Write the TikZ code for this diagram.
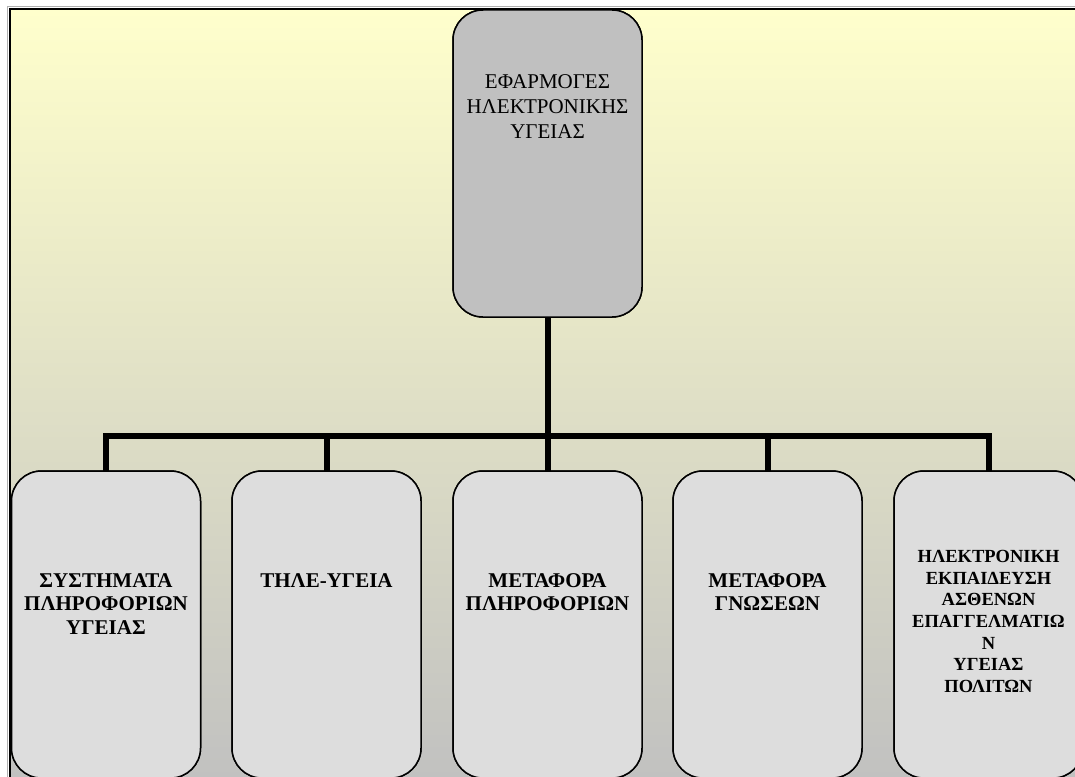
\documentclass[tikz,border=0pt]{standalone}
\usepackage{fontspec}
\setmainfont{Liberation Serif}
\definecolor{paleyellow}{HTML}{FFFFCC}
\definecolor{silvergrey}{HTML}{C0C0C0}
\definecolor{lightbox}{HTML}{DDDDDD}
\definecolor{framegrey}{HTML}{B0B0B0}
\begin{document}
\begin{tikzpicture}[x=1pt,y=-1pt,
  box/.style={draw=black, line width=1.5pt, rounded corners=30pt,
    minimum width=189pt, minimum height=307pt, inner sep=0pt, outer sep=0pt},
  topbox/.style={box, fill=silvergrey},
  leafbox/.style={box, fill=lightbox},
  toplabel/.style={anchor=north, align=center, inner sep=0pt,
    font=\fontsize{21}{25}\selectfont},
  leaflabel/.style={anchor=north, align=center, inner sep=0pt,
    font=\bfseries\fontsize{21}{23.5}\selectfont},
  smallleaflabel/.style={leaflabel, font=\bfseries\fontsize{18.5}{21.7}\selectfont},
  link/.style={line width=6pt, line join=miter}]

\useasboundingbox (0,0) rectangle (1075,776);

\begin{scope}
  \clip (0,0) rectangle (1075,776);
  % page background with its frame
  \shade[top color=paleyellow, bottom color=silvergrey] (10,9) rectangle (1090,790);
  \draw[framegrey, line width=1pt] (7.8,790) -- (7.8,6.8) -- (1090,6.8);
  \draw[black, line width=2pt] (10,790) -- (10,9) -- (1090,9);

  % hierarchy boxes
  \coordinate (bus) at (547.5,436);
  \node[topbox] (root) at (547.5,163.5) {};
  \node[leafbox] (l1) at (106,624.5) {};
  \node[leafbox] (l2) at (326.5,624.5) {};
  \node[leafbox] (l3) at (547.5,624.5) {};
  \node[leafbox] (l4) at (767.5,624.5) {};
  \node[leafbox] (l5) at (988.5,624.5) {};

  % connectors
  \draw[link] (root.south) -- (root.south |- bus);
  \draw[link] (l1.north) -- (l1.north |- bus) -- (l5.north |- bus) -- (l5.north);
  \foreach \n in {l2,l3,l4} {
    \draw[link] (\n.north |- bus) -- (\n.north);
  }

  % redraw box outlines over the connector ends
  \node[topbox] at (root) {};
  \foreach \n in {l1,l2,l3,l4,l5} {
    \node[leafbox] at (\n) {};
  }

  % labels
  \node[toplabel] (roottext) at (547.5,74) {ΕΦΑΡΜΟΓΕΣ\\ΗΛΕΚΤΡΟΝΙΚΗΣ\\ΥΓΕΙΑΣ};
  \node[leaflabel] (t1) at (106,573) {ΣΥΣΤΗΜΑΤΑ\\ΠΛΗΡΟΦΟΡΙΩΝ\\ΥΓΕΙΑΣ};
  \node[leaflabel] (t2) at (326.5,573) {ΤΗΛΕ-ΥΓΕΙΑ};
  \node[leaflabel] (t3) at (547.5,573) {ΜΕΤΑΦΟΡΑ\\ΠΛΗΡΟΦΟΡΙΩΝ};
  \node[leaflabel] (t4) at (767.5,573) {ΜΕΤΑΦΟΡΑ\\ΓΝΩΣΕΩΝ};
  \node[smallleaflabel] (t5) at (988.5,550)
    {ΗΛΕΚΤΡΟΝΙΚΗ\\ΕΚΠΑΙΔΕΥΣΗ\\ΑΣΘΕΝΩΝ\\ΕΠΑΓΓΕΛΜΑΤΙΩ\\Ν\\ΥΓΕΙΑΣ\\ΠΟΛΙΤΩΝ};
\end{scope}
\end{tikzpicture}
\end{document}
